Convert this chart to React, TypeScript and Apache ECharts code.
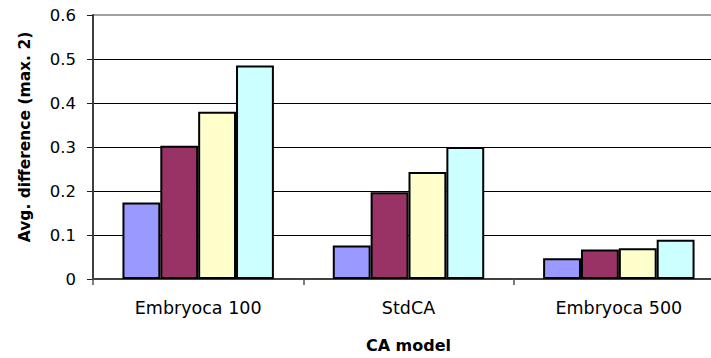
import React, { useEffect, useRef } from "react";
import * as echarts from "echarts";

// CA models on the category axis
const categories = ["Embryoca 100", "StdCA", "Embryoca 500"];

// Average difference per model, one array per run
const seriesA = [0.174, 0.076, 0.047];
const seriesB = [0.303, 0.197, 0.067];
const seriesC = [0.38, 0.243, 0.07];
const seriesD = [0.485, 0.3, 0.089];

const seriesValues = [seriesA, seriesB, seriesC, seriesD];
const seriesColors = ["#9999FF", "#993366", "#FFFFCC", "#CCFFFF"];

const yTicks = { min: 0, max: 0.6, interval: 0.1 };

const FONT = "DejaVu Sans, Liberation Sans, Arial, sans-serif";

export default function App() {
  const ref = useRef<HTMLDivElement>(null);

  useEffect(() => {
    if (!ref.current) return;
    const chart = echarts.init(ref.current, undefined, { renderer: "svg" });
    chart.setOption({
      animation: false,
      backgroundColor: "#ffffff",
      grid: {
        left: 93,
        top: 15,
        bottom: 79,
        right: 1,
        show: true,
        borderColor: "#a0a0a0",
        borderWidth: 2,
        backgroundColor: "transparent",
      },
      xAxis: {
        type: "category",
        data: categories,
        name: "CA model",
        nameLocation: "middle",
        nameGap: 58,
        nameTextStyle: {
          fontFamily: FONT,
          fontWeight: "bold",
          fontSize: 16,
          color: "#000",
        },
        axisLine: { show: true, lineStyle: { color: "#404040", width: 2 } },
        axisTick: { show: true, length: 6, lineStyle: { color: "#505050", width: 1.5 } },
        axisLabel: {
          margin: 20,
          fontFamily: FONT,
          fontSize: 17.5,
          color: "#000",
        },
        splitLine: { show: false },
      },
      yAxis: {
        type: "value",
        min: yTicks.min,
        max: yTicks.max,
        interval: yTicks.interval,
        axisLine: { show: true, lineStyle: { color: "#404040", width: 2 } },
        axisTick: { show: true, length: 6, lineStyle: { color: "#202020", width: 1 } },
        axisLabel: {
          margin: 17,
          fontFamily: FONT,
          fontSize: 16.5,
          color: "#000",
          formatter: (v: number) => (v === 0 ? "0" : v.toFixed(1)),
        },
        splitLine: {
          show: true,
          showMinLine: false,
          showMaxLine: false,
          lineStyle: { color: "#000", width: 1 },
        },
      },
      graphic: [
        {
          type: "text",
          x: 25,
          y: 137,
          rotation: Math.PI / 2,
          style: {
            text: "Avg. difference (max. 2)",
            font: `bold 15.5px ${FONT}`,
            fill: "#000",
            textAlign: "center",
            textVerticalAlign: "middle",
          },
        },
      ],
      series: seriesValues.map((vals, i) => ({
        type: "bar",
        name: `Series ${i + 1}`,
        data: vals,
        barGap: "0%",
        barCategoryGap: "28%",
        itemStyle: {
          color: seriesColors[i],
          borderColor: "#000",
          borderWidth: 2,
        },
      })),
    });
    return () => chart.dispose();
  }, []);

  // The plot runs past the right edge of the visible frame, so the chart
  // canvas is wider than its clipping wrapper.
  return (
    <div
      style={{
        position: "absolute",
        left: 0,
        top: 0,
        width: 711,
        height: 358,
        overflow: "hidden",
        background: "#fff",
      }}
    >
      <div ref={ref} style={{ width: 725, height: 358 }} />
    </div>
  );
}
